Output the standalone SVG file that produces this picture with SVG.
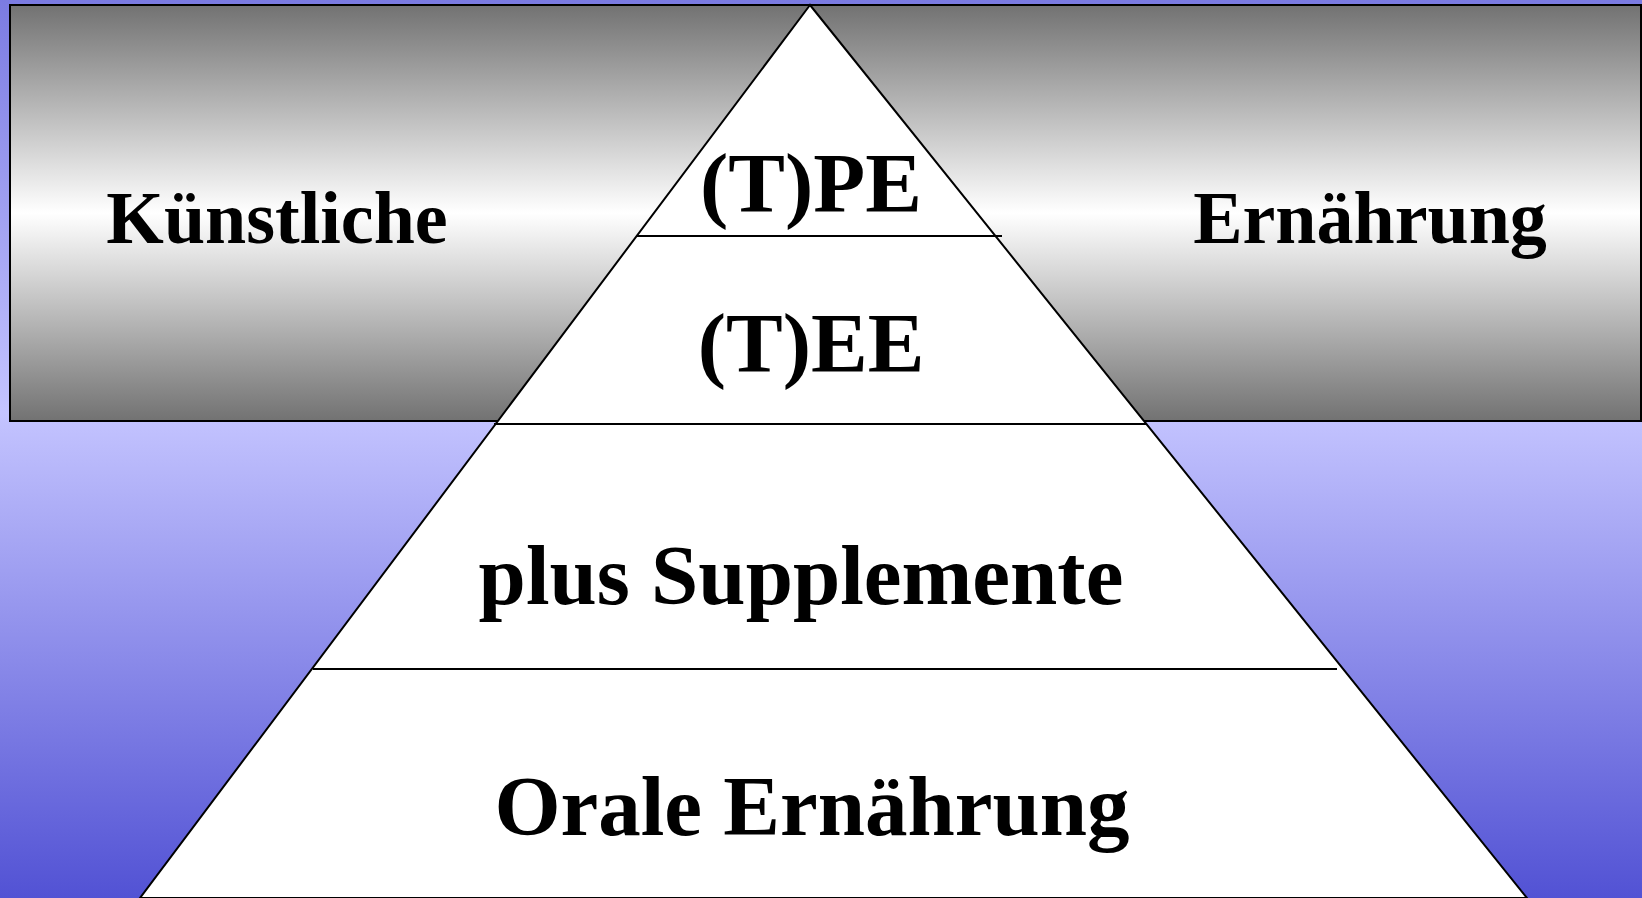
<svg xmlns="http://www.w3.org/2000/svg" width="1642" height="898" viewBox="0 0 1642 898">
<defs>
<linearGradient id="bg" x1="0" y1="0" x2="0" y2="898" gradientUnits="userSpaceOnUse">
<stop offset="0" stop-color="#7b7be2"/>
<stop offset="0.46" stop-color="#c4c4ff"/>
<stop offset="1" stop-color="#5252d4"/>
</linearGradient>
<linearGradient id="box" x1="0" y1="5" x2="0" y2="421" gradientUnits="userSpaceOnUse">
<stop offset="0" stop-color="#727272"/>
<stop offset="0.5" stop-color="#ffffff"/>
<stop offset="1" stop-color="#727272"/>
</linearGradient>
<style>
.t{font-family:"Liberation Serif","Times New Roman",serif;font-weight:bold;fill:#000;text-anchor:middle}
.ln{stroke:#000;stroke-width:2;fill:none}
</style>
</defs>
<rect x="0" y="0" width="1642" height="898" fill="url(#bg)"/>
<g id="banner">
<rect x="10" y="5" width="1631" height="416" fill="url(#box)" stroke="#000" stroke-width="2"/>
<text class="t" x="277" y="243" font-size="74">Künstliche</text>
<text class="t" x="1370" y="243" font-size="74">Ernährung</text>
</g>
<g id="pyramid">
<polygon points="810,5 140,898 1527,898" fill="#fff" stroke="#000" stroke-width="2"/>
</g>
<g id="connectors">
<line class="ln" x1="636" y1="236" x2="1002" y2="236"/>
<line class="ln" x1="494" y1="424" x2="1147" y2="424"/>
<line class="ln" x1="313" y1="669" x2="1337" y2="669"/>
</g>
<g id="level-tpe"><text class="t" x="811" y="212" font-size="85">(T)PE</text></g>
<g id="level-tee"><text class="t" x="811" y="372" font-size="85">(T)EE</text></g>
<g id="level-supp"><text class="t" x="801" y="604" font-size="85">plus Supplemente</text></g>
<g id="level-oral"><text class="t" x="812" y="835" font-size="85">Orale Ernährung</text></g>
</svg>
